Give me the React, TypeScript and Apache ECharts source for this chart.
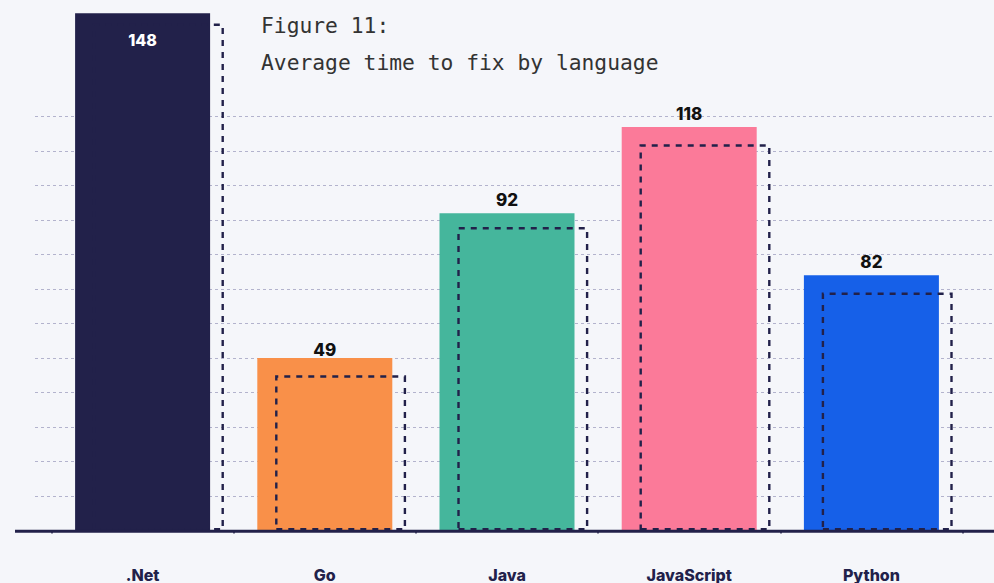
import React, { useEffect, useRef } from "react";
import * as echarts from "echarts";

const categories = [".Net", "Go", "Java", "JavaScript", "Python"];
const barValues = [150, 50, 92, 117, 74];
const barLabels = ["148", "49", "92", "118", "82"];
const outlineValues = [147, 45, 88, 112, 69];
const barColors = ["#22214a", "#f99049", "#45b69c", "#fb7a99", "#1660e8"];
const titleLines = ["Figure 11:", "Average time to fix by language"];

const W = 994;
const H = 583;
const NAVY = "#22214a";
const GRID_TOP = 116.7;
const GRID_BOTTOM = 52.5;

export default function App() {
  const ref = useRef<HTMLDivElement>(null);
  useEffect(() => {
    document.body.style.margin = "0";
    const chart = echarts.init(ref.current!, null, { renderer: "svg" });
    const option: any = {
      animation: false,
      backgroundColor: "#f5f6fa",
      title: {
        text: titleLines.join("\n"),
        left: 261,
        top: 7,
        padding: 0,
        textStyle: {
          fontFamily: "DejaVu Sans Mono",
          fontSize: 21.3,
          fontWeight: 300,
          color: "#333333",
          lineHeight: 37,
        },
      },
      grid: [
        { left: 35, right: 0, top: GRID_TOP, bottom: GRID_BOTTOM },
        { left: 51.5, right: 31.5, top: GRID_TOP, bottom: GRID_BOTTOM },
        { left: 67.3, right: 15.7, top: GRID_TOP, bottom: GRID_BOTTOM },
      ],
      xAxis: [
        { gridIndex: 0, type: "value", show: false },
        {
          gridIndex: 1,
          type: "category",
          data: categories,
          axisLine: { show: false },
          axisTick: { show: true, length: 3, lineStyle: { color: NAVY, width: 1.5 } },
          axisLabel: {
            margin: 36,
            color: NAVY,
            fontFamily: "Inter",
            fontWeight: 800,
            fontSize: 16,
          },
        },
        { gridIndex: 2, type: "category", data: categories, show: false },
      ],
      yAxis: [
        {
          gridIndex: 0,
          type: "value",
          min: 0,
          max: 120,
          interval: 10,
          axisLine: { show: false },
          axisTick: { show: false },
          axisLabel: { show: false },
          splitLine: {
            show: true,
            lineStyle: { color: "#b3b3cd", width: 1.2, type: [3, 3] },
          },
        },
        { gridIndex: 1, type: "value", min: 0, max: 120, show: false, splitLine: { show: false } },
        { gridIndex: 2, type: "value", min: 0, max: 120, show: false, splitLine: { show: false } },
      ],
      series: [
        {
          type: "bar",
          xAxisIndex: 1,
          yAxisIndex: 1,
          clip: false,
          barWidth: 135,
          z: 2,
          data: barValues.map((v, i) => ({
            value: v,
            itemStyle: { color: barColors[i] },
            label:
              i === 0
                ? { position: "insideTop", distance: 19, color: "#ffffff", fontSize: 16 }
                : i === 1
                ? { distance: 0 }
                : undefined,
          })),
          label: {
            show: true,
            position: "top",
            distance: 5,
            formatter: (p: any) => barLabels[p.dataIndex],
            color: "#111111",
            fontFamily: "Inter",
            fontWeight: 800,
            fontSize: 17,
          },
        },
        {
          type: "bar",
          xAxisIndex: 2,
          yAxisIndex: 2,
          clip: false,
          barWidth: 131,
          z: 3,
          silent: true,
          data: outlineValues,
          itemStyle: {
            color: "rgba(0,0,0,0)",
            borderColor: NAVY,
            borderWidth: 2.4,
            borderType: [6, 6],
          },
        },
      ],
      graphic: [
        {
          type: "line",
          z: 10,
          shape: { x1: 15, y1: H - GRID_BOTTOM + 0.7, x2: W, y2: H - GRID_BOTTOM + 0.7 },
          style: { stroke: NAVY, lineWidth: 3 },
        },
      ],
    };
    chart.setOption(option);
    return () => chart.dispose();
  }, []);
  return (
    <div
      ref={ref}
      style={{ position: "fixed", left: 0, top: 0, width: W, height: H }}
    />
  );
}
